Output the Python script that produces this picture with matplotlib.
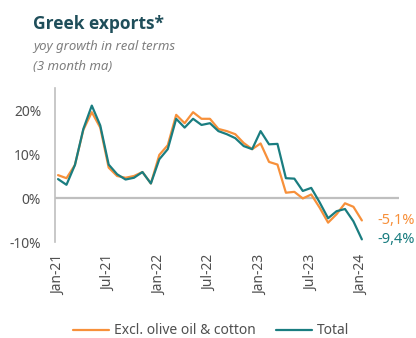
import matplotlib
matplotlib.use("Agg")
import matplotlib.pyplot as plt
from matplotlib.ticker import FuncFormatter

# ---- data (monthly, Jan-21 .. Jan-24, % yoy, 3m ma) ----
excl_olive_cotton = [5.2, 4.5, 7.5, 15.5, 19.5, 16.0, 6.9, 5.0, 4.6, 5.0, 5.9, 3.3,
                     9.8, 12.0, 18.9, 17.0, 19.5, 18.0, 18.0, 15.7, 15.2, 14.5, 12.5, 11.1,
                     12.4, 8.2, 7.6, 1.2, 1.4, -0.1, 0.8, -2.2, -5.6, -3.7, -1.2, -2.0, -5.1]
total = [4.3, 3.0, 7.5, 15.7, 21.0, 16.5, 7.6, 5.4, 4.2, 4.6, 5.9, 3.3,
         8.8, 11.1, 18.0, 16.0, 18.0, 16.6, 17.0, 15.2, 14.5, 13.6, 11.8, 11.1,
         15.2, 12.2, 12.3, 4.5, 4.4, 1.6, 2.3, -1.0, -4.6, -3.0, -2.5, -5.3, -9.4]
months = list(range(len(total)))
tick_labels = ["Jan-21", "Jul-21", "Jan-22", "Jul-22", "Jan-23", "Jul-23", "Jan-24"]
tick_positions = [0, 6, 12, 18, 24, 30, 36]
series_names = ["Excl. olive oil & cotton", "Total"]
end_labels = ["-5,1%", "-9,4%"]

ORANGE = "#F7903A"
TEAL = "#1A7D80"
GRAY_TXT = "#505050"

plt.rcParams['font.family'] = ['Noto Sans', 'DejaVu Sans']

fig = plt.figure(figsize=(4.16, 3.38), dpi=100)
ax = fig.add_axes([55/416, 1-242/338, (399-55)/416, (242-88)/338])

ax.plot(months, excl_olive_cotton, color=ORANGE, lw=1.6, solid_joinstyle='round',
        solid_capstyle='round', label=series_names[0], zorder=3)
ax.plot(months, total, color=TEAL, lw=1.6, solid_joinstyle='round',
        solid_capstyle='round', label=series_names[1], zorder=4)

ax.set_xlim(-0.36, 40.4)
ax.set_ylim(-10, 25)
ax.set_yticks([-10, 0, 10, 20])
ax.yaxis.set_major_formatter(FuncFormatter(lambda v, p: f"{v:.0f}%"))
ax.set_xticks(tick_positions)
ax.set_xticklabels(tick_labels, rotation=90, va='top', ha='center')

ax.tick_params(axis='both', length=0, colors=GRAY_TXT, labelsize=10)
ax.tick_params(axis='x', pad=9)
ax.tick_params(axis='y', pad=10)

for s in ['top', 'right', 'bottom']:
    ax.spines[s].set_visible(False)
ax.spines['left'].set_color('#BFBFBF')
ax.spines['left'].set_linewidth(1.2)
ax.axhline(0, color='#BFBFBF', lw=1.6, zorder=1)

# end labels
ax.annotate(end_labels[0], xy=(months[-1], excl_olive_cotton[-1]), xytext=(11, 0),
            textcoords='offset points', color=ORANGE, fontsize=10.5, va='center', ha='left')
ax.annotate(end_labels[1], xy=(months[-1], total[-1]), xytext=(11, 0),
            textcoords='offset points', color=TEAL, fontsize=10.5, va='center', ha='left')

# titles
fig.text(33/416, 1-29/338, "Greek exports*", fontsize=12.5, fontweight='bold',
         family=['Open Sans', 'DejaVu Sans'],
         color="#1F4E5A", ha='left', va='baseline')
fig.text(33/416, 1-50/338, "yoy growth in real terms", fontsize=9.5, style='italic',
         color="#7F7F7F", ha='left', va='baseline')
fig.text(33/416, 1-70/338, "(3 month ma)", fontsize=9.5, style='italic',
         color="#7F7F7F", ha='left', va='baseline')

fig.legend(loc='center', bbox_to_anchor=(211/416, 1-331/338), ncol=2, frameon=False,
           fontsize=10, handlelength=2.6, handletextpad=0.3, columnspacing=1.5,
           labelcolor=GRAY_TXT)

fig.savefig("out.png", dpi=100)
